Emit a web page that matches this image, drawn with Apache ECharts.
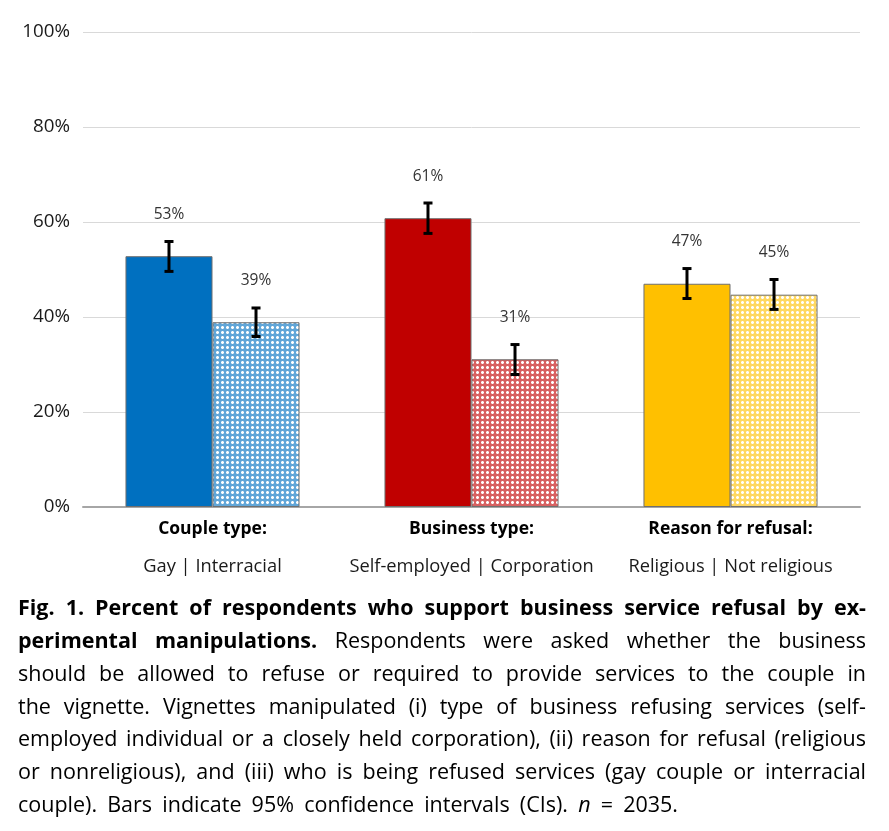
<!DOCTYPE html>
<html><head><meta charset="utf-8">
<script src="https://cdn.jsdelivr.net/npm/echarts@6/dist/echarts.min.js"></script>
<style>html,body{margin:0;padding:0;background:#fff}#c{width:889px;height:831px}</style>
</head><body><div id="c"></div>
<script>
const categories = ['Couple type:', 'Business type:', 'Reason for refusal:'];
const subLabels = ['Gay | Interracial', 'Self-employed | Corporation', 'Religious | Not religious'];
const firstValues = [52.8, 60.8, 47.0];
const secondValues = [38.9, 31.1, 44.7];
const firstLabels = ['53%', '61%', '47%'];
const secondLabels = ['39%', '31%', '45%'];
const firstCILow = [49.6, 57.6, 43.9];
const firstCIHigh = [55.9, 64.0, 50.2];
const secondCILow = [35.9, 27.9, 41.6];
const secondCIHigh = [41.9, 34.2, 47.9];
const solidColors = ['#0070C0', '#C00000', '#FFC000'];
const captionLines = [
  [['b', 'Fig. 1. Percent of respondents who support business service refusal by ex-']],
  [['b', 'perimental manipulations.'], ['n', 'Respondents were asked whether the business']],
  [['n', 'should be allowed to refuse or required to provide services to the couple in']],
  [['n', 'the vignette. Vignettes manipulated (i) type of business refusing services (self-']],
  [['n', 'employed individual or a closely held corporation), (ii) reason for refusal (religious']],
  [['n', 'or nonreligious), and (iii) who is being refused services (gay couple or interracial']],
  [['n', 'couple). Bars indicate 95% confidence intervals (CIs).'], ['i', 'n'], ['n', '= 2035.']]
];

function hexToRgb(h) { return [parseInt(h.substr(1, 2), 16), parseInt(h.substr(3, 2), 16), parseInt(h.substr(5, 2), 16)]; }
function pattern(color) {
  const c = document.createElement('canvas');
  c.width = 5; c.height = 5;
  const ctx = c.getContext('2d');
  const [r, g, b] = hexToRgb(color);
  const mix = a => 'rgb(' + Math.round(255 + (r - 255) * a) + ',' + Math.round(255 + (g - 255) * a) + ',' + Math.round(255 + (b - 255) * a) + ')';
  ctx.fillStyle = mix(0.62); ctx.fillRect(0, 0, 5, 5);
  ctx.fillStyle = '#ffffff';
  [[2, 1], [1, 2], [2, 2], [3, 2], [2, 3]].forEach(([x, y]) => ctx.fillRect(x, y, 1, 1));
  ctx.fillStyle = mix(0.3);
  [[1, 1], [3, 1], [1, 3], [3, 3]].forEach(([x, y]) => ctx.fillRect(x, y, 1, 1));
  return { image: c, repeat: 'repeat' };
}

const FONT = '"Open Sans", "Noto Sans", sans-serif';
const CAP_SIZE = 21.5;
const fontFor = { b: 'bold ' + CAP_SIZE + 'px ' + FONT, n: CAP_SIZE + 'px ' + FONT, i: 'italic ' + CAP_SIZE + 'px ' + FONT };
const mctx = document.createElement('canvas').getContext('2d');
function w(t, s) { mctx.font = fontFor[s]; return mctx.measureText(t).width; }

function buildCaption() {
  const els = [];
  const left = 18, right = 866, lastRight = 678, top = 609, step = 32.8;
  captionLines.forEach((segs, li) => {
    const words = [];
    segs.forEach(([s, t]) => t.split(' ').forEach(word => words.push([s, word])));
    const total = words.reduce((a, [s, t]) => a + w(t, s), 0);
    const last = li === captionLines.length - 1;
    const gap = ((last ? lastRight : right) - left - total) / (words.length - 1);
    let x = left;
    words.forEach(([s, t]) => {
      els.push({ type: 'text', x: x, y: top + li * step, style: { text: t, font: fontFor[s], fill: '#000', textVerticalAlign: 'middle' } });
      x += w(t, s) + gap;
    });
  });
  return els;
}

const BAR_W = 0.336;
const chart = echarts.init(document.getElementById('c'));
const errData = [];
categories.forEach((c, i) => {
  errData.push([i, firstCILow[i], firstCIHigh[i], -1]);
  errData.push([i, secondCILow[i], secondCIHigh[i], 1]);
});
const labelStyle = { fontFamily: FONT, fontSize: 15.5, color: '#333' };
chart.setOption({
  animation: false,
  grid: { left: 83, right: 29, top: 32, bottom: 324 },
  xAxis: {
    type: 'category',
    data: categories.map((c, i) => c + '\n' + subLabels[i]),
    axisTick: { show: false },
    axisLine: { lineStyle: { color: '#a6a6a6', width: 2 } },
    axisLabel: {
      margin: 3,
      formatter: (v, i) => '{b|' + categories[i] + '}\n{n|' + subLabels[i] + '}',
      rich: {
        b: { fontFamily: FONT, fontWeight: 'bold', fontSize: 17.5, color: '#000', lineHeight: 38 },
        n: { fontFamily: FONT, fontSize: 18.3, color: '#1a1a1a', lineHeight: 38 }
      }
    }
  },
  yAxis: {
    type: 'value', min: 0, max: 100, interval: 20,
    axisLabel: { formatter: '{value}%', fontFamily: FONT, fontSize: 18.8, color: '#1a1a1a', margin: 13 },
    splitLine: { lineStyle: { color: '#d9d9d9', width: 1 } },
    axisLine: { show: false }, axisTick: { show: false }
  },
  series: [
    {
      type: 'bar', barWidth: (BAR_W * 100) + '%', barGap: '0%',
      data: firstValues.map((v, i) => ({ value: v, itemStyle: { color: solidColors[i] } })),
      itemStyle: { borderColor: '#6f6f6f', borderWidth: 1 },
      label: Object.assign({ show: true, position: 'top', distance: 34, formatter: p => firstLabels[p.dataIndex] }, labelStyle)
    },
    {
      type: 'bar', barWidth: (BAR_W * 100) + '%', barGap: '0%',
      data: secondValues.map((v, i) => ({ value: v, itemStyle: { color: pattern(solidColors[i]) } })),
      itemStyle: { borderColor: '#6f6f6f', borderWidth: 1 },
      label: Object.assign({ show: true, position: 'top', distance: 34, formatter: p => secondLabels[p.dataIndex] }, labelStyle)
    },
    {
      type: 'custom', z: 10,
      data: errData,
      renderItem: function (params, api) {
        const cat = api.value(0);
        const side = api.value(3);
        const band = api.size([1, 0])[0];
        const lo = api.coord([cat, api.value(1)]);
        const hi = api.coord([cat, api.value(2)]);
        const x = lo[0] + side * band * BAR_W / 2;
        const cap = 4.5;
        const st = { stroke: '#000', lineWidth: 3 };
        return {
          type: 'group', children: [
            { type: 'line', shape: { x1: x, y1: lo[1], x2: x, y2: hi[1] }, style: st },
            { type: 'line', shape: { x1: x - cap, y1: lo[1], x2: x + cap, y2: lo[1] }, style: st },
            { type: 'line', shape: { x1: x - cap, y1: hi[1], x2: x + cap, y2: hi[1] }, style: st }
          ]
        };
      }
    }
  ],
  graphic: buildCaption()
});
</script>
</body></html>
